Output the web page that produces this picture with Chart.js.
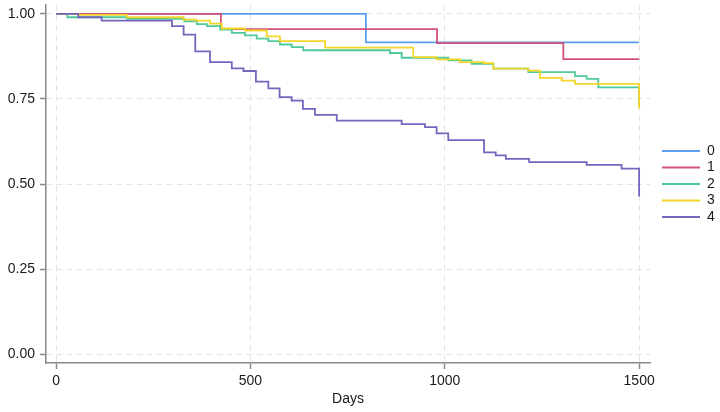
<!DOCTYPE html>
<html>
<head>
<meta charset="utf-8">
<style>
body { margin: 0; background: #fff; }
#wrap { width: 720px; height: 412px; }
</style>
</head>
<body>
<div id="wrap"><canvas id="km" width="720" height="412"></canvas></div>
<script src="https://cdn.jsdelivr.net/npm/chart.js@4.4.0/dist/chart.umd.min.js"></script>
<script>
// groups and their step points (day of event, survival after event)
var groups = ['0', '1', '2', '3', '4'];
var colors = ['#5a9ef0', '#d2527c', '#4fca98', '#f4d62a', '#7665bf'];

var days0 = [0, 797, 1500];
var surv0 = [1, 0.916, 0.916];

var days1 = [0, 424, 980, 1305, 1500];
var surv1 = [1, 0.955, 0.914, 0.867, 0.867];

var days2 = [0, 29, 182, 330, 362, 388, 422, 452, 486, 516, 546, 576, 606, 636, 859, 889, 1009, 1069, 1125, 1215, 1335, 1365, 1395, 1500];
var surv2 = [1, 0.990, 0.985, 0.978, 0.970, 0.964, 0.954, 0.944, 0.937, 0.927, 0.920, 0.910, 0.902, 0.893, 0.885, 0.871, 0.863, 0.853, 0.839, 0.829, 0.817, 0.809, 0.784, 0.728];

var days3 = [0, 57, 182, 328, 360, 396, 426, 486, 542, 576, 692, 919, 979, 1039, 1100, 1125, 1215, 1245, 1301, 1335, 1500];
var surv3 = [1, 0.997, 0.990, 0.983, 0.980, 0.971, 0.957, 0.951, 0.934, 0.920, 0.901, 0.873, 0.866, 0.858, 0.855, 0.839, 0.833, 0.812, 0.804, 0.794, 0.722];

var days4 = [0, 57, 117, 298, 328, 358, 396, 452, 482, 514, 546, 575, 606, 635, 666, 722, 889, 949, 979, 1009, 1101, 1131, 1157, 1217, 1365, 1455, 1500];
var surv4 = [1, 0.990, 0.980, 0.964, 0.939, 0.890, 0.858, 0.840, 0.832, 0.801, 0.781, 0.755, 0.745, 0.721, 0.703, 0.686, 0.676, 0.667, 0.649, 0.629, 0.593, 0.584, 0.574, 0.564, 0.556, 0.545, 0.463];

var xTicks = [0, 500, 1000, 1500];
var yTicks = [0, 0.25, 0.5, 0.75, 1];

var allDays = [days0, days1, days2, days3, days4];
var allSurv = [surv0, surv1, surv2, surv3, surv4];

function pts(d, s) {
	var out = [];
	for (var i = 0; i < d.length; i++) out.push({x: d[i], y: s[i]});
	return out;
}

var sets = [];
for (var g = 0; g < groups.length; g++) {
	sets.push({
		label: groups[g],
		data: pts(allDays[g], allSurv[g]),
		borderColor: colors[g],
		backgroundColor: colors[g],
		borderWidth: 1.8,
		pointRadius: 0,
		stepped: 'before',
		fill: false,
		order: groups.length - g
	});
}

var font = {family: '"Liberation Sans", Arial, sans-serif', size: 14};
var axisGray = '#8a8a8a';

// nudge the legend right of the plot, as in the original
var legendShift = {
	id: 'legendShift',
	afterLayout: function(chart) {
		chart.legend.left += 9.5;
		chart.legend.right += 9.5;
	}
};

function noPad(s) {
	s.paddingTop = 0; s.paddingBottom = 0;
	s.paddingLeft = 0; s.paddingRight = 0;
}

new Chart(document.getElementById('km').getContext('2d'), {
	type: 'line',
	data: {datasets: sets},
	plugins: [legendShift],
	options: {
		responsive: false,
		animation: false,
		layout: {padding: {left: 0, right: 4.7, top: 5, bottom: 0}},
		plugins: {
			tooltip: {enabled: false},
			legend: {
				position: 'right',
				fullSize: false,
				labels: {
					usePointStyle: true,
					pointStyle: 'line',
					pointStyleWidth: 38,
					padding: 2.5,
					color: '#1a1a1a',
					font: font,
					sort: function(a, b) { return a.datasetIndex - b.datasetIndex; }
				}
			}
		},
		scales: {
			x: {
				type: 'linear',
				min: -26,
				max: 1528,
				afterBuildTicks: function(s) { s.ticks = xTicks.map(function(v) { return {value: v}; }); },
				afterFit: function(s) { s.height = 49; noPad(s); },
				ticks: {autoSkip: false, maxRotation: 0, padding: 4, color: '#1a1a1a', font: font,
					callback: function(v) { return String(v); }},
				grid: {color: '#e4e4e4', tickColor: axisGray, tickLength: 6, tickWidth: 1.5},
				border: {color: axisGray, width: 1.5, dash: [6, 4]},
				title: {display: true, text: 'Days', color: '#1a1a1a', font: font, padding: {top: 0, bottom: 4}}
			},
			y: {
				min: -0.026,
				max: 1.026,
				afterBuildTicks: function(s) { s.ticks = yTicks.map(function(v) { return {value: v}; }); },
				afterFit: function(s) { s.width = 46; noPad(s); },
				ticks: {autoSkip: false, padding: 5, color: '#1a1a1a', font: font,
					callback: function(v) { return v.toFixed(2); }},
				grid: {color: '#e4e4e4', tickColor: axisGray, tickLength: 6, tickWidth: 1.5},
				border: {color: axisGray, width: 1.5, dash: [6, 4]}
			}
		}
	}
});
</script>
</body>
</html>
